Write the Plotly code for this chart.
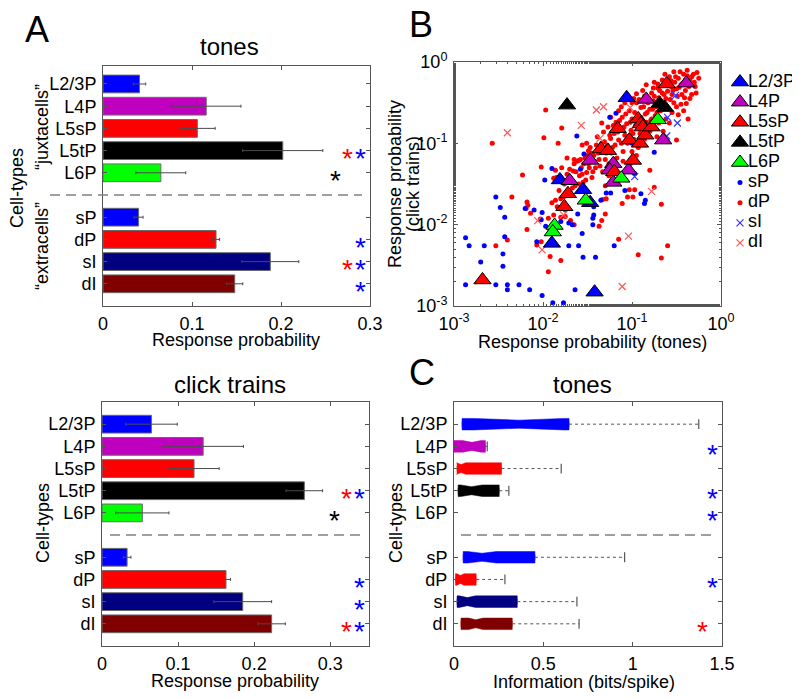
import plotly.graph_objects as go

FONT = "Liberation Sans, Arial, sans-serif"
# the page puts the plot 8 px in from the top-left corner, so the figure is 8 px smaller
OFF = 8
W, H = 800 - OFF, 699 - OFF

# ---------------- data ----------------
cell_types = ["L2/3P", "L4P", "L5sP", "L5tP", "L6P", "sP", "dP", "sI", "dI"]
row_pos = [1, 2, 3, 4, 5, 7, 8, 9, 10]
type_colors = ["#0000ff", "#bf00bf", "#ff0000", "#000000", "#00ff00",
               "#0000ff", "#ff0000", "#000080", "#800000"]

# A: response probability (mean +- sem)
tones_prob = [0.041, 0.116, 0.106, 0.202, 0.065, 0.040, 0.127, 0.188, 0.148]
tones_err = [0.007, 0.039, 0.020, 0.045, 0.028, 0.005, 0.004, 0.032, 0.009]
clicks_prob = [0.065, 0.133, 0.121, 0.266, 0.053, 0.033, 0.163, 0.185, 0.223]
clicks_err = [0.034, 0.053, 0.033, 0.024, 0.035, 0.005, 0.006, 0.038, 0.018]

# significance stars (row, x, colour)
tones_star_rows = [4, 4, 5, 8, 9, 9, 10]
tones_star_x = [0.275, 0.289, 0.261, 0.289, 0.275, 0.289, 0.289]
tones_star_col = ["#ff0000", "#0000ff", "#000000", "#0000ff", "#ff0000", "#0000ff", "#0000ff"]
clicks_star_rows = [4, 4, 5, 8, 9, 10, 10]
clicks_star_x = [0.322, 0.338, 0.305, 0.338, 0.338, 0.322, 0.338]
clicks_star_col = ["#ff0000", "#0000ff", "#000000", "#0000ff", "#0000ff", "#ff0000", "#0000ff"]
info_star_rows = [2, 4, 5, 8, 10]
info_star_x = [1.449, 1.449, 1.449, 1.449, 1.39]
info_star_col = ["#0000ff", "#0000ff", "#0000ff", "#0000ff", "#ff0000"]

# C: information (bits/spike) box statistics, L6P has no data
info_q1 = [0.045, 0.0, 0.017, 0.023, None, 0.051, 0.008, 0.017, 0.039]
info_med = [0.363, 0.10, 0.040, 0.098, None, 0.157, 0.036, 0.075, 0.122]
info_q3 = [0.644, 0.176, 0.266, 0.253, None, 0.453, 0.124, 0.354, 0.326]
info_upper = [1.37, 0.186, 0.60, 0.307, None, 0.955, 0.285, 0.688, 0.70]
info_notch = [0.25, 0.05, 0.025, 0.06, None, 0.08, 0.02, 0.045, 0.04]

# B: log10 response probability, (tones, click trains)
l23_tones = [-1.06, -1.81, -1.55, -1.47, -1.90, -1.42]
l23_clicks = [-0.44, -1.45, -1.57, -1.73, -2.23, -2.83]
l4_tones = [-0.84, -0.39, -0.65, -1.47, -1.70, -1.21, -1.25, -1.04, -1.21]
l4_clicks = [-0.46, -0.26, -0.96, -1.21, -1.46, -1.25, -1.33, -1.33, -1.48]
l5s_tones = [-0.61, -1.16, -0.93, -0.90, -0.88, -1.03, -0.91, -0.85, -1.35, -1.27,
             -0.99, -1.20, -1.72, -1.76, -2.68, -0.78]
l5s_clicks = [-0.27, -0.82, -0.70, -0.76, -0.80, -0.96, -1.00, -0.90, -1.07, -1.09,
              -1.21, -1.35, -1.62, -1.78, -2.68, -0.80]
l5t_tones = [-1.73, -0.69, -0.63]
l5t_clicks = [-0.53, -0.51, -0.56]
l6_tones = [-0.71, -1.12, -1.52, -1.87, -1.89]
l6_clicks = [-0.71, -1.43, -1.70, -2.01, -2.09]

sp_tones = [-2.87, -2.87, -2.83, -2.66, -2.70, -2.53, -2.48, -2.43, -2.43, -2.45,
            -2.45, -2.53, -2.40, -2.40, -2.27, -2.15, -2.01, -1.89, -1.77, -2.20,
            -2.10, -2.01, -2.02, -1.97, -1.92, -2.07, -1.80, -1.71, -1.67, -1.61,
            -1.71, -1.60, -1.55, -1.56, -1.64, -1.62, -1.90, -1.98, -1.58, -1.54,
            -1.08, -0.90, -0.85, -0.86, -1.35, -1.29, -1.24, -1.43, -1.43, -1.44,
            -1.44, -1.20, -1.41, -1.18, -1.25, -0.75, -0.97, -1.00]
sp_clicks = [-2.74, -2.16, -2.26, -2.26, -2.46, -1.66, -1.79, -1.91, -2.15, -2.36,
             -2.51, -2.74, -2.74, -2.80, -2.74, -2.80, -2.87, -2.96, -2.96, -1.80,
             -1.82, -1.85, -1.94, -2.02, -2.07, -2.21, -1.96, -1.98, -2.00, -1.87,
             -2.26, -2.26, -2.40, -2.11, -2.80, -0.91, -1.31, -1.45, -1.32, -1.13,
             -1.58, -1.62, -1.70, -1.74, -1.70, -1.61, -1.61, -1.78, -1.88, -1.92,
             -2.00, -2.26, -2.40, -0.63, -0.68, -1.11, -1.37, -1.00]

dp_tones = [-1.97, -1.79, -1.99, -1.83, -2.57, -2.23, -2.02, -1.73, -1.65, -1.60,
            -1.70, -1.86, -1.56, -1.51, -1.49, -1.88, -2.35, -2.18, -2.17, -2.19,
            -2.14, -1.90, -1.86, -1.80, -1.77, -1.73, -1.69, -1.88, -1.80, -1.75,
            -1.69, -1.65, -1.94, -2.03, -2.18, -2.53, -2.40, -2.07, -2.02, -1.92,
            -1.80, -1.94, -1.75, -1.84, -1.03, -0.97, -0.75, -1.05, -0.99, -1.11,
            -0.67, -1.30, -1.34, -1.37, -1.29, -1.33, -1.15, -0.60, -0.93, -0.67,
            -0.37, -0.39, -0.50, -0.80, -0.71, -0.95,
            -0.33, -0.30, -0.36, -0.40, -0.42, -0.45, -0.48, -0.50, -0.52, -0.55,
            -0.56, -0.58, -0.60, -0.62, -0.63, -0.65, -0.66, -0.68, -0.70, -0.71,
            -0.73, -0.74, -0.76, -0.78, -0.79, -0.80, -0.82, -0.84, -0.85, -0.86,
            -0.88, -0.90, -0.91, -0.93, -0.95, -0.96, -0.98, -1.00, -1.01, -1.03,
            -1.05, -1.06, -1.08, -1.10, -1.11, -1.13, -1.15, -1.17, -1.18, -1.20,
            -1.22, -1.24, -1.26, -1.27, -1.29, -1.31, -1.33, -1.35, -1.37, -1.39,
            -1.41, -1.43, -1.45, -1.47, -1.49, -1.51, -1.53, -1.55, -1.57, -1.59,
            -1.62, -1.64, -1.66, -1.68, -1.71, -1.73, -1.76, -1.79, -1.82, -1.85,
            -0.28, -0.35, -0.44, -0.53, -0.46, -0.38, -0.27, -0.60, -0.72, -0.62,
            -0.55, -0.50, -0.75, -0.88, -1.00, -1.12, -0.95, -1.20, -1.30, -1.02,
            -0.40, -0.43, -0.47, -0.49, -0.51, -0.54, -0.57, -0.59, -0.61, -0.64,
            -0.66, -0.67, -0.69, -0.72, -0.72, -0.75, -0.77, -0.78, -0.81, -0.83,
            -0.84, -0.87, -0.89, -0.90, -0.92, -0.94, -0.97, -0.99, -1.02, -1.04,
            -1.07, -1.09, -1.12, -1.14, -1.16, -1.19, -1.21, -1.23, -1.25, -1.28,
            -1.30, -1.32, -1.34, -1.36, -1.38, -1.40, -1.42, -1.44, -1.46, -1.48,
            -1.50, -1.52, -1.54, -1.56, -1.58, -1.60, -1.63, -1.65, -1.67, -1.70,
            -0.35, -0.31, -0.25, -0.29, -0.33, -0.38, -0.41, -0.45, -0.53, -0.56,
            -0.63, -0.70, -0.80, -0.86, -0.93, -1.00, -0.65, -0.58, -0.48, -0.42,
            -1.10, -1.18, -1.26, -0.76, -0.84, -0.98, -1.08, -1.15, -1.24, -1.34]
dp_clicks = [-0.59, -0.81, -0.93, -1.00, -1.00, -1.39, -1.29, -1.18, -1.20, -1.21,
             -1.32, -1.33, -1.02, -1.00, -1.09, -1.43, -1.66, -1.72, -1.76, -1.80,
             -1.86, -1.73, -1.70, -1.68, -1.66, -1.64, -1.61, -1.88, -1.91, -1.90,
             -1.95, -2.00, -1.92, -1.93, -2.06, -2.26, -2.19, -2.25, -2.21, -2.39,
             -2.44, -2.58, -1.82, -1.78, -1.57, -1.57, -1.54, -1.66, -1.66, -1.74,
             -1.75, -1.87, -1.95, -2.02, -1.68, -1.69, -2.18, -2.26, -2.37, -2.41,
             -0.70, -0.51, -0.96, -1.33, -0.27, -0.39,
             -0.18, -0.25, -0.30, -0.22, -0.15, -0.28, -0.20, -0.33, -0.25, -0.40,
             -0.30, -0.18, -0.36, -0.45, -0.28, -0.52, -0.38, -0.60, -0.44, -0.32,
             -0.55, -0.66, -0.48, -0.38, -0.72, -0.58, -0.50, -0.80, -0.64, -0.42,
             -0.72, -0.56, -0.88, -0.66, -0.50, -0.78, -0.95, -0.70, -0.84, -0.60,
             -1.00, -0.76, -0.90, -1.10, -0.68, -0.82, -0.96, -1.18, -0.74, -0.88,
             -1.05, -0.94, -1.25, -0.80, -1.12, -0.98, -1.35, -1.08, -1.20, -0.92,
             -1.30, -1.15, -1.42, -1.05, -1.25, -1.36, -1.18, -1.48, -1.30, -1.40,
             -1.22, -1.52, -1.34, -1.45, -1.60, -1.38, -1.50, -1.30, -1.58, -1.42,
             -0.38, -0.45, -0.40, -0.50, -0.12, -0.10, -0.13, -0.25, -0.92, -0.70,
             -0.62, -0.55, -0.25, -0.35, -0.50, -0.55, -1.15, -1.35, -1.52, -1.25,
             -0.35, -0.26, -0.31, -0.42, -0.18, -0.35, -0.46, -0.29, -0.55, -0.40,
             -0.22, -0.48, -0.35, -0.50, -0.62, -0.42, -0.58, -0.70, -0.45, -0.62,
             -0.74, -0.55, -0.82, -0.68, -0.46, -0.75, -0.62, -0.88, -0.74, -0.92,
             -0.64, -0.80, -1.00, -0.72, -0.86, -1.02, -0.78, -1.12, -0.90, -1.02,
             -1.20, -0.86, -1.00, -1.28, -1.12, -1.02, -1.22, -1.35, -1.12, -1.30,
             -1.15, -1.45, -1.25, -1.38, -1.20, -1.50, -1.35, -1.25, -1.55, -1.42,
             -0.22, -0.15, -0.20, -0.30, -0.40, -0.17, -0.44, -0.52, -0.12, -0.23,
             -0.15, -0.75, -0.85, -0.95, -1.05, -1.10, -0.85, -0.75, -0.65, -0.60,
             -1.22, -1.30, -1.40, -0.32, -0.28, -0.45, -0.50, -0.60, -0.68, -0.75]

si_tones = [-0.51, -0.49, -0.60, -0.61, -0.97]
si_clicks = [-0.41, -0.75, -0.68, -0.91, -1.41]
di_tones = [-2.40, -1.57, -2.01, -1.04, -1.11, -0.78, -1.40, -1.32, -1.02, -1.36, -1.77, -2.06]
di_clicks = [-0.87, -0.78, -2.31, -2.14, -2.76, -1.59, -0.59, -0.55, -0.56, -0.94, -1.88, -1.95]

# legend of panel B
legend_names = ["L2/3P", "L4P", "L5sP", "L5tP", "L6P", "sP", "dP", "sI", "dI"]


def px_x(p):
    return (p - OFF) / W


def px_y(p):
    return 1 - (p - OFF) / H


def pw(v):
    return [10 ** a for a in v]


fig = go.Figure()

# ---------------- A: bar panels ----------------
for xa, ya, vals, errs in [("x", "y", tones_prob, tones_err),
                           ("x3", "y3", clicks_prob, clicks_err)]:
    fig.add_trace(go.Bar(
        x=vals, y=row_pos, orientation="h", width=0.8,
        marker=dict(color=type_colors, line=dict(color="#6a6a6a", width=1)),
        error_x=dict(type="data", array=errs, color="#4a4a4a", thickness=1, width=1.5),
        xaxis=xa, yaxis=ya, hoverinfo="skip"))

# ---------------- C: notched box plots ----------------
for i, name in enumerate(cell_types):
    if info_q1[i] is None:
        continue
    fig.add_trace(go.Box(
        y=[row_pos[i]], q1=[info_q1[i]], median=[info_med[i]], q3=[info_q3[i]],
        lowerfence=[info_q1[i]], upperfence=[info_q3[i]],
        notched=True, notchspan=[info_notch[i]], notchwidth=0.15,
        orientation="h", width=0.52, fillcolor=type_colors[i],
        line=dict(color=type_colors[i], width=0.5),
        xaxis="x4", yaxis="y4", hoverinfo="skip"))

wx, wy, cx, cy = [], [], [], []
for i in range(len(cell_types)):
    if info_q3[i] is None:
        continue
    wx += [info_q3[i], info_upper[i], None]
    wy += [row_pos[i], row_pos[i], None]
    cx.append(info_upper[i])
    cy.append(row_pos[i])
fig.add_trace(go.Scatter(x=wx, y=wy, mode="lines", line=dict(color="#555555", width=1, dash="dot"),
                         xaxis="x4", yaxis="y4", hoverinfo="skip"))
fig.add_trace(go.Scatter(x=cx, y=cy, mode="markers",
                         marker=dict(symbol="line-ns-open", size=7, color="#555555",
                                     line=dict(color="#555555", width=1.2)),
                         xaxis="x4", yaxis="y4", hoverinfo="skip"))

# ---------------- B: scatter ----------------
tri_edge = dict(color="#000", width=1)
styles = {
    "L2/3P": dict(symbol="triangle-up", size=15, color="#0000ff", line=tri_edge),
    "L4P": dict(symbol="triangle-up", size=15, color="#bf00bf", line=tri_edge),
    "L5sP": dict(symbol="triangle-up", size=15, color="#ff0000", line=tri_edge),
    "L5tP": dict(symbol="triangle-up", size=15, color="#000000", line=tri_edge),
    "L6P": dict(symbol="triangle-up", size=15, color="#00ff00", line=tri_edge),
    "sP": dict(symbol="circle", size=5, color="#0000ff"),
    "dP": dict(symbol="circle", size=5, color="#ff0000"),
    "sI": dict(symbol="x-thin-open", size=7, color="#3333ff", line=dict(color="#3333ff", width=1.2)),
    "dI": dict(symbol="x-thin-open", size=7, color="#ff5555", line=dict(color="#ff5555", width=1.2)),
}
scatter_sets = [("dP", dp_tones, dp_clicks), ("sP", sp_tones, sp_clicks),
                ("dI", di_tones, di_clicks), ("sI", si_tones, si_clicks),
                ("L2/3P", l23_tones, l23_clicks), ("L4P", l4_tones, l4_clicks),
                ("L5sP", l5s_tones, l5s_clicks), ("L5tP", l5t_tones, l5t_clicks),
                ("L6P", l6_tones, l6_clicks)]
for name, tx, ty in scatter_sets:
    fig.add_trace(go.Scatter(x=pw(tx), y=pw(ty), mode="markers", name=name,
                             marker=styles[name], xaxis="x2", yaxis="y2"))

# legend drawn on its own hidden axis
for i, name in enumerate(legend_names):
    fig.add_trace(go.Scatter(x=[14], y=[i], mode="markers", marker=styles[name],
                             xaxis="x5", yaxis="y5", hoverinfo="skip"))
fig.add_trace(go.Scatter(x=[22] * len(legend_names), y=list(range(len(legend_names))),
                         mode="text", text=legend_names, textposition="middle right",
                         textfont=dict(family=FONT, size=18, color="#000"),
                         xaxis="x5", yaxis="y5", hoverinfo="skip"))

# ---------------- axes ----------------
frame = dict(showline=True, linecolor="#555555", linewidth=1, mirror="ticks", ticks="inside",
             ticklen=4, tickcolor="#555555", showgrid=False, zeroline=False,
             tickfont=dict(family=FONT, size=18, color="#000000"))

bar_y = dict(tickvals=row_pos, ticktext=cell_types, ticklabelstandoff=2, **frame)
log_ticks = dict(tickvals=[0.001, 0.01, 0.1, 1],
                 ticktext=["10<sup>-3</sup>", "10<sup>-2</sup>", "10<sup>-1</sup>", "10<sup>0</sup>"],
                 minor=dict(ticks="inside", ticklen=2, tickcolor="#555555", showgrid=False))

fig.update_layout(
    xaxis=dict(domain=[px_x(103), px_x(370)], range=[0, 0.3], anchor="y",
               tickvals=[0, 0.1, 0.2, 0.3], ticktext=["0", "0.1", "0.2", "0.3"],
               ticklabelstandoff=1, **frame),
    yaxis=dict(domain=[px_y(306), px_y(66)], range=[11, 0.19], anchor="x", **bar_y),
    xaxis3=dict(domain=[px_x(102), px_x(369)], range=[0, 0.351], anchor="y3",
                tickvals=[0, 0.1, 0.2, 0.3], ticktext=["0", "0.1", "0.2", "0.3"],
                ticklabelstandoff=1, **frame),
    yaxis3=dict(domain=[px_y(646), px_y(402)], range=[11, 0], anchor="x3", **bar_y),
    xaxis4=dict(domain=[px_x(454), px_x(722)], range=[0, 1.5], anchor="y4",
                tickvals=[0, 0.5, 1, 1.5], ticktext=["0", "0.5", "1", "1.5"],
                ticklabelstandoff=1, **frame),
    yaxis4=dict(domain=[px_y(646), px_y(402)], range=[11, 0], anchor="x4", **bar_y),
    xaxis2=dict(domain=[px_x(454), px_x(721)], type="log", range=[-3, 0], anchor="y2",
                ticklabelstandoff=1, **log_ticks, **frame),
    yaxis2=dict(domain=[px_y(306), px_y(62)], type="log", range=[-3, 0], anchor="x2",
                ticklabelstandoff=2, **log_ticks, **frame),
    xaxis5=dict(domain=[px_x(726), 1], range=[0, 74], anchor="y5", visible=False),
    yaxis5=dict(domain=[px_y(253), px_y(72)], range=[8.5, -0.5], anchor="x5", visible=False),
)

# ---------------- stars ----------------
annotations = []
for rows, xs, cols, xr, yr in [(tones_star_rows, tones_star_x, tones_star_col, "x", "y"),
                               (clicks_star_rows, clicks_star_x, clicks_star_col, "x3", "y3"),
                               (info_star_rows, info_star_x, info_star_col, "x4", "y4")]:
    for r, xv, c in zip(rows, xs, cols):
        annotations.append(dict(x=xv, y=r, xref=xr, yref=yr, text="*", showarrow=False,
                                yshift=-8, font=dict(family=FONT, size=28, color=c)))


def label(text, x, y, size=18, angle=0):
    return dict(text=text, x=px_x(x), y=px_y(y), xref="paper", yref="paper",
                xanchor="center", yanchor="middle", showarrow=False, textangle=angle,
                font=dict(family=FONT, size=size, color="#000000"))


annotations += [
    label("A", 37, 30, 36), label("B", 421, 25, 36), label("C", 422, 372, 36),
    label("tones", 230, 46, 24), label("click trains", 230, 385, 24), label("tones", 582, 385, 24),
    label("Response probability", 236, 340), label("Response probability", 235, 681),
    label("Response probability (tones)", 592, 342), label("Information (bits/spike)", 584, 682),
    label("Cell-types", 17, 188, angle=-90),
    label("\u201cjuxtacells\u201d", 42, 127, angle=-90),
    label("\u201cextracells\u201d", 42, 246, angle=-90),
    label("Cell-types", 43, 523, angle=-90),
    label("Cell-types", 396, 523, angle=-90),
    label("Response probability", 395, 184, angle=-90),
    label("(click trains)", 413, 184, angle=-90),
]

dash = dict(color="#808080", width=1.5, dash="10px,6px")
shapes = [
    dict(type="line", xref="paper", yref="y", x0=px_x(50), x1=px_x(362), y0=6, y1=6, line=dash),
    dict(type="line", xref="paper", yref="y3", x0=px_x(110), x1=px_x(362), y0=6, y1=6, line=dash),
    dict(type="line", xref="paper", yref="y4", x0=px_x(461), x1=px_x(713), y0=6, y1=6, line=dash),
]

fig.update_layout(
    width=W, height=H, margin=dict(l=0, r=0, t=0, b=0, pad=0, autoexpand=False),
    paper_bgcolor="white", plot_bgcolor="white", showlegend=False,
    font=dict(family=FONT, size=18, color="#000000"),
    annotations=annotations, shapes=shapes, barmode="overlay", boxmode="overlay",
)

fig.write_html("out.html")
